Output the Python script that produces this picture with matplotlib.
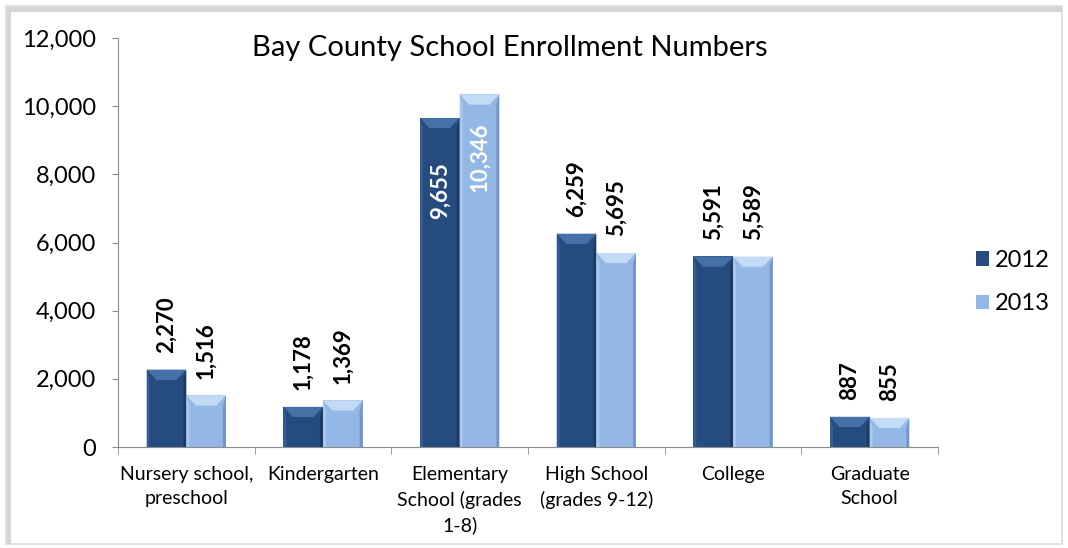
import matplotlib
matplotlib.use("Agg")
import matplotlib.pyplot as plt
from matplotlib.patches import Polygon, Rectangle
import numpy as np

# Bay County school enrollment, 2012 vs 2013
categories = ["Nursery school,\npreschool", "Kindergarten", "Elementary\nSchool (grades\n1-8)",
              "High School\n(grades 9-12)", "College", "Graduate\nSchool"]
years = ["2012", "2013"]
enroll_2012 = [2270, 1178, 9655, 6259, 5591, 887]
enroll_2013 = [1516, 1369, 10346, 5695, 5589, 855]
y_ticks = [0, 2000, 4000, 6000, 8000, 10000, 12000]
title = "Bay County School Enrollment Numbers"

plt.rcParams['font.family'] = ['Lato', 'DejaVu Sans']

# colours: main, top bevel, left edge, right edge
styles = {
    "2012": ("#264b7e", "#4570a8", "#335d93", "#1c3a62"),
    "2013": ("#94b8e5", "#c4dbf5", "#aac8ee", "#7197c9"),
}
inside_pad = {"2012": -32, "2013": -20}   # points, for labels drawn inside tall bars

fig = plt.figure(figsize=(10.68, 5.48), dpi=100)
ax = fig.add_axes([118 / 1068, 1 - 447 / 548, 820 / 1068, 409 / 548])

# frame around the chart
fig.patches.append(Rectangle((6 / 1068, 4 / 548), 1056 / 1068, 538 / 548, transform=fig.transFigure,
                             fill=False, edgecolor="#dcdcdc", linewidth=1.2))
fig.patches.append(Rectangle((7 / 1068, 4 / 548), 4 / 1068, 536 / 548, transform=fig.transFigure,
                             facecolor="#d4d4d4", edgecolor="none"))
fig.patches.append(Rectangle((7 / 1068, 536 / 548), 1055 / 1068, 5 / 548, transform=fig.transFigure,
                             facecolor="#d4d4d4", edgecolor="none"))

x = np.arange(len(categories))
w = 0.29
top_in = 0.07    # horizontal inset of the top bevel
side_in = 0.022  # width of the side edges
bev_y = 300      # height of the top bevel, data units

def draw_bars(xs, vals, year):
    main, top, left, right = styles[year]
    bars = ax.bar(xs, vals, w, color=main, edgecolor="none", label=year, zorder=2)
    for b in bars:
        x0, x1, h = b.get_x(), b.get_x() + b.get_width(), b.get_height()
        by = min(bev_y, h / 2)
        ax.add_patch(Polygon([(x0, 0), (x0, h), (x0 + side_in, h - by), (x0 + side_in, 0)],
                             closed=True, facecolor=left, edgecolor="none", zorder=3))
        ax.add_patch(Polygon([(x1, 0), (x1, h), (x1 - side_in, h - by), (x1 - side_in, 0)],
                             closed=True, facecolor=right, edgecolor="none", zorder=3))
        ax.add_patch(Polygon([(x0, h), (x1, h), (x1 - top_in, h - by), (x0 + top_in, h - by)],
                             closed=True, facecolor=top, edgecolor="none", zorder=3))
    return bars

b12 = draw_bars(x - w / 2, enroll_2012, "2012")
b13 = draw_bars(x + w / 2, enroll_2013, "2013")

for year, bars in zip(years, (b12, b13)):
    for b in bars:
        v = b.get_height()
        cx = b.get_x() + b.get_width() / 2
        if v > 9000:
            ax.annotate(f"{v:,.0f}", (cx, v), xytext=(0, inside_pad[year]), textcoords="offset points",
                        rotation=90, ha="center", va="top", fontsize=16, fontweight="bold",
                        color="white", zorder=5)
        else:
            ax.annotate(f"{v:,.0f}", (cx, v), xytext=(0, 12), textcoords="offset points",
                        rotation=90, ha="center", va="bottom", fontsize=16, fontweight="bold",
                        color="black", zorder=5)

ax.set_xlim(-0.5, len(categories) - 0.5)
ax.set_ylim(0, 12000)
ax.set_yticks(y_ticks)
ax.set_yticklabels([f"{t:,}" for t in y_ticks], fontsize=17)
ax.set_xticks(x)
ax.set_xticklabels(categories, fontsize=14, linespacing=1.5)
ax.tick_params(axis="x", length=0, pad=14)
ax.set_xticks(np.arange(-0.5, len(categories)), minor=True)
ax.tick_params(axis="x", which="minor", length=5, color="#8c8c8c")
ax.tick_params(axis="y", length=4.5, color="#8c8c8c", pad=11)

for s in ("top", "right"):
    ax.spines[s].set_visible(False)
for s in ("left", "bottom"):
    ax.spines[s].set_color("#8c8c8c")

fig.text(510 / 1068, 1 - 48 / 548, title, ha="center", va="center", fontsize=21)

handles, labels = ax.get_legend_handles_labels()
fig.legend(handles, labels, loc="center left", bbox_to_anchor=(955 / 1068, 1 - 282 / 548),
           frameon=False, fontsize=17, handlelength=0.55, handleheight=0.55, labelspacing=0.95,
           handletextpad=0.25)

fig.savefig("out.png", dpi=100)
